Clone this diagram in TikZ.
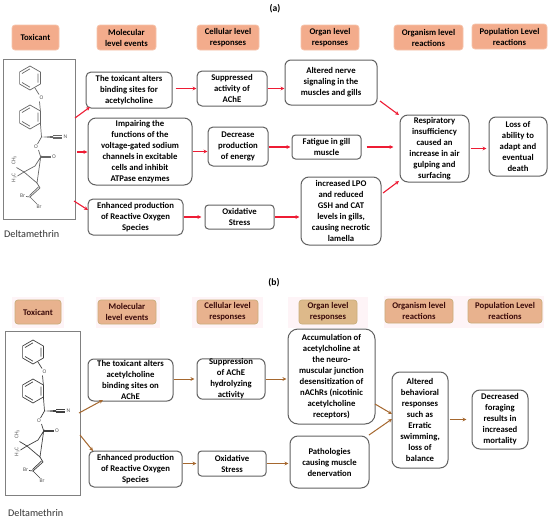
\documentclass[tikz,border=0pt]{standalone}
\usepackage{fontspec}
\setmainfont{Carlito}
\usetikzlibrary{arrows.meta,calc}
\definecolor{hdrA}{HTML}{F3AC8C}
\definecolor{hdrAe}{HTML}{F6C4AC}
\definecolor{hdrB}{HTML}{E8B28E}
\definecolor{hdrBe}{HTML}{C9AE7C}
\definecolor{hdrC}{HTML}{DDB98A}
\definecolor{halo}{HTML}{FEF4F7}
\definecolor{arrR}{HTML}{EE1C34}
\definecolor{arrB}{HTML}{A5672E}
\definecolor{maroon}{HTML}{3A0A0A}
\tikzset{
  x=1pt,y=-1pt,
  boxtxt/.style={font=\fontsize{8.7}{11}\selectfont\bfseries,align=center,inner sep=0pt,text=black},
  ev/.style={boxtxt,draw=black!62,line width=1pt,fill=white,rounded corners=#1},
  ev/.default=5pt,
  hdrs/.style={boxtxt,fill=hdrA,draw=hdrAe,line width=0.7pt,rounded corners=3pt},
  hdrb/.style={boxtxt,fill=hdrB,draw=hdrBe,line width=0.7pt,rounded corners=3pt,text=maroon},
  hdrc/.style={hdrb,fill=hdrC,draw=hdrBe},
  molbox/.style={draw=black!50,line width=0.9pt,fill=white,inner sep=0pt},
  capt/.style={font=\fontsize{10.2}{11}\selectfont,text=black!80,inner sep=0pt},
  ttl/.style={font=\fontsize{9.6}{10}\selectfont\bfseries,inner sep=0pt},
  arA/.style={-{Stealth[length=4pt,width=3.8pt]},draw=arrR,line width=1.1pt},
  arB/.style={-{Stealth[length=4pt,width=3.8pt]},draw=arrB,line width=1pt},
  atom/.style={font=\fontsize{5.6}{6}\selectfont,inner sep=0pt,text=black!65},
}
% box from corners: style, name, x0, y0, x1, y1, text
\newcommand\bx[7]{%
  \pgfmathsetmacro\bxw{#5-#3}\pgfmathsetmacro\bxh{#6-#4}%
  \pgfmathsetmacro\bxx{(#5+#3)/2}\pgfmathsetmacro\bxy{(#6+#4)/2}%
  \node[#1,minimum width=\bxw pt,minimum height=\bxh pt] (#2) at (\bxx,\bxy) {#7};}
\newcommand\molec[1]{%
\begin{scope}[draw=black!#1,line width=0.7pt]
 \foreach \cx/\cy in {30/78,30/117}{
  \draw (\cx,\cy-12)--(\cx+10.4,\cy-6)--(\cx+10.4,\cy+6)--(\cx,\cy+12)--(\cx-10.4,\cy+6)--(\cx-10.4,\cy-6)--cycle;
  \draw (\cx-8,\cy-4.5)--(\cx,\cy-9.2) (\cx+8,\cy-4.5)--(\cx+8,\cy+4.5) (\cx,\cy+9.2)--(\cx-8,\cy+4.5);
 }
 \draw (35,88)--(39,94.5) (39.5,101.5)--(40.4,111);
 \draw (40.4,123)--(41.5,137)--(37.5,144) (38.5,150)--(40.7,157);
 \fill[black!#1] (41.5,137)--(53,136)--(53,138)--cycle;
 \draw (53,135.8)--(62,135.8) (53,137)--(62,137) (53,138.2)--(62,138.2);
 \draw (40.7,156.3)--(51,156.3) (40.7,157.7)--(51,157.7);
 \draw (40.7,157)--(35,166)--(24,172)--(37,183)--cycle;
 \draw (24,172)--(16.5,167.5) (24,172)--(17.5,176);
 \draw (37,183)--(40,188)--(30,197) (38.5,187)--(29.5,195.5);
 \draw (30,197)--(26,196.5) (30,197)--(37,204);
\end{scope}
\node[atom] at (41.5,98) {O};
\node[atom] at (65.5,137) {N};
\node[atom] at (36,147) {O};
\node[atom] at (54,157) {O};
\node[atom,rotate=90] at (14,160) {CH\textsubscript{3}};
\node[atom,rotate=90] at (14,178) {H\textsubscript{3}C};
\node[atom] at (22.5,196) {Br};
\node[atom] at (39,207) {Br};
}
\begin{document}
\begin{tikzpicture}
\useasboundingbox (0,0) rectangle (550,520);
\fill[white] (0,0) rectangle (550,520);

% ---------- (a) ----------
\node[ttl] (ta) at (275,9) {(a)};
\bx{hdrs}{ha1}{12}{25}{59}{50}{Toxicant}
\bx{hdrs}{ha2}{97}{25}{156}{50}{Molecular\\level events}
\bx{hdrs}{ha3}{197}{25}{259}{50}{Cellular level\\responses}
\bx{hdrs}{ha4}{301}{25}{359}{50}{Organ level\\responses}
\bx{hdrs}{ha5}{394}{25}{463}{50}{Organism level\\reactions}
\bx{hdrs}{ha6}{472}{24}{547}{49}{Population Level\\reactions}

\bx{molbox}{ma}{3}{59}{75}{219}{}
\begin{scope}\molec{60}\end{scope}
\node[capt,anchor=west] (da) at (4,234) {Deltamethrin};

\bx{ev}{a1}{86}{72}{172}{108}{The toxicant alters\\binding sites for\\acetylcholine}
\bx{ev=8pt}{a2}{88}{118}{192}{185}{Impairing the\\functions of the\\voltage-gated sodium\\channels in excitable\\cells and inhibit\\ATPase enzymes}
\bx{ev}{a3}{88}{199}{183}{235}{Enhanced production\\of Reactive Oxygen\\Species}
\bx{ev}{b1x}{197}{71}{267}{106}{Suppressed\\activity of\\AChE}
\bx{ev}{b2x}{208}{127}{268}{166}{Decrease\\production\\of energy}
\bx{ev=3.5pt}{b3x}{205}{205}{274}{229}{Oxidative\\Stress}
\bx{ev=6pt}{c1x}{285}{60}{377}{105}{Altered nerve\\signaling in the\\muscles and gills}
\bx{ev=3.5pt}{c2x}{292}{135}{361}{159}{Fatigue in gill\\muscle}
\bx{ev=8pt}{c3x}{301}{177}{381}{245}{increased LPO\\and reduced\\GSH and CAT\\levels in gills,\\causing necrotic\\lamella}
\bx{ev=8pt}{ra}{400}{115}{469}{182}{Respiratory\\insufficiency\\caused an\\increase in air\\gulping and\\surfacing}
\bx{ev=7pt}{pa}{489}{117}{547}{176}{Loss of\\ability to\\adapt and\\eventual\\death}

\coordinate (ma1) at (75,118);
\coordinate (ma2) at (77,152);
\coordinate (ma3) at (74,201);
\coordinate (a1in) at (90,107);
\coordinate (a3in) at (88,210);
\coordinate (c1out) at (380,101);
\coordinate (rin1) at (399,115);
\coordinate (c3out) at (383,193);
\coordinate (rin3) at (399,181);
\draw[arA] (ma1)--(a1in);
\draw[arA] (ma2)--(ma2-|a2.west);
\draw[arA] (ma3)--(a3in);
\draw[arA,shorten <=3pt] (a1.east|-b1x)--(b1x.west);
\draw[arA] (a2.east)--(b2x.west|-a2.east);
\draw[arA,shorten >=3pt] (a3.east|-b3x)--(b3x.west);
\draw[arA] (b1x.east)--(c1x.west|-b1x.east);
\draw[arA,shorten >=1pt] (b2x.east|-c2x)--(c2x.west);
\draw[arA,shorten >=1pt] (b3x.east)--(c3x.west|-b3x.east);
\draw[arA] (c1out)--(rin1);
\draw[arA,shorten <=5pt,shorten >=6pt] (c2x.east)--(ra.west|-c2x.east);
\draw[arA] (c3out)--(rin3);
\draw[arA,shorten <=1pt,shorten >=2pt] (ra.east)--(pa.west|-ra.east);

% ---------- (b) ----------
\node[ttl] (tb) at (274,283) {(b)};
\fill[halo] (12,297) rectangle (64,328);
\fill[halo] (96,297) rectangle (160,328);
\fill[halo] (192,297) rectangle (263,328);
\fill[halo] (288,297) rectangle (368,328);
\fill[halo] (384,296) rectangle (544,328);
\bx{hdrb}{hb1}{15}{300}{61}{324}{Toxicant}
\bx{hdrb}{hb2}{98}{300}{156}{324}{Molecular\\level events}
\bx{hdrb}{hb3}{197}{300}{258}{324}{Cellular level\\responses}
\bx{hdrc}{hb4}{299}{300}{357}{324}{Organ level\\responses}
\bx{hdrb}{hb5}{385}{299}{453}{323}{Organism level\\reactions}
\bx{hdrb}{hb6}{468}{299}{542}{323}{Population Level\\reactions}

\bx{molbox}{mb}{5}{331}{80}{495}{}
\begin{scope}[shift={(3,274)}]\molec{75}\end{scope}
\node[capt,anchor=west] (db) at (8,513) {Deltamethrin};

\bx{ev=6pt}{d1}{88}{359}{173}{401}{The toxicant alters\\acetylcholine\\binding sites on\\AChE}
\bx{ev}{d2}{89}{451}{182}{487}{Enhanced production\\of Reactive Oxygen\\Species}
\bx{ev=6pt}{e1}{197}{359}{265}{399}{Suppression\\of AChE\\hydrolyzing\\activity}
\bx{ev=3.5pt}{e2}{198}{451}{266}{476}{Oxidative\\Stress}
\bx{ev=10pt}{f1}{288}{329}{375}{424}{Accumulation of\\acetylcholine at\\the neuro-\\muscular junction\\desensitization of\\nAChRs (nicotinic\\acetylcholine\\receptors)}
\bx{ev=8pt}{f2}{290}{436}{369}{488}{Pathologies\\causing muscle\\denervation}
\bx{ev=8pt}{rb}{392}{372}{448}{468}{Altered\\behavioral\\responses\\such as\\Erratic\\swimming,\\loss of\\balance}
\bx{ev=8pt}{pb}{472}{390}{528}{449}{Decreased\\foraging\\results in\\increased\\mortality}

\coordinate (mb1) at (79,413);
\coordinate (mb2) at (80,435);
\coordinate (d1in) at (103,400);
\coordinate (d2in) at (93,451);
\coordinate (f1out) at (375,404);
\coordinate (rbin1) at (392,414);
\coordinate (f2out) at (369,435);
\coordinate (rbin2) at (392,419);
\draw[arB] (mb1)--(d1in);
\draw[arB] (mb2)--(d2in);
\draw[arB,shorten >=2pt] (d1.east|-e1)--(e1.west);
\draw[arB,shorten >=1pt] (d2.east|-e2)--(e2.west);
\draw[arB,shorten >=1pt] (e1.east)--(f1.west|-e1.east);
\draw[arB,shorten >=1pt] (e2.east)--(f2.west|-e2.east);
\draw[arB] (f1out)--(rbin1);
\draw[arB] (f2out)--(rbin2);
\draw[arB,shorten <=1pt,shorten >=5pt] (rb.east|-pb)--(pb.west);
\end{tikzpicture}
\end{document}
